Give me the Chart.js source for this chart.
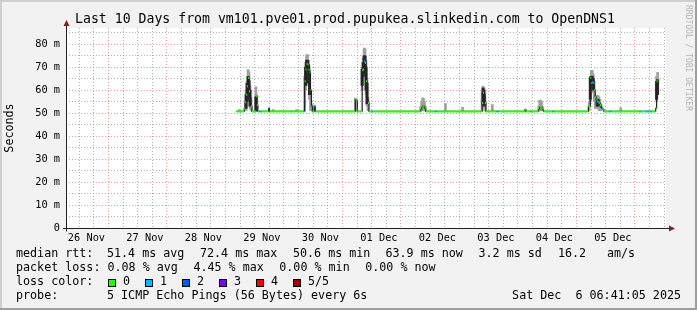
<!DOCTYPE html>
<html>
<head>
<meta charset="utf-8">
<script src="https://cdn.jsdelivr.net/npm/chart.js@4.4.1/dist/chart.umd.min.js"></script>
<style>
  html, body { margin: 0; padding: 0; background: #f2f2f2; }
  canvas { display: block; }
</style>
</head>
<body>
<canvas id="myChart" width="697" height="310"></canvas>
<script>
// time is hours since 26 Nov 00:00; graph covers 10 days up to 6 Dec 06:41
var xStart = 6.68, xEnd = 246.68;

// median rtt (ms); each value holds until the next time
var medTime = [
  73.4, 76.7, 77.1, 77.5, 77.9, 78.3, 78.7, 79.1, 79.5, 79.9,
  81.5, 81.9, 82.3, 83.1, 83.9, 86.7, 87.1, 95.9, 96.3,
  101.1, 101.5, 101.9, 102.3, 102.7, 103.1, 103.5, 103.9, 104.3, 104.7, 105.5, 105.9,
  122.3, 122.7, 123.1, 125.1, 125.5, 125.9, 126.3, 126.7, 127.1, 127.5, 127.9, 129.1, 129.5,
  149.1, 149.5, 149.9, 150.3, 150.7, 151.1, 155.1, 155.9,
  174.3, 174.7, 175.1, 175.5, 175.9, 180.3, 181.1, 191.9, 192.3, 194.3, 194.7,
  197.5, 197.9, 198.3, 198.7, 199.1, 199.5, 203.1, 203.9,
  217.9, 218.7, 219.1, 219.5, 219.9, 220.3, 220.7, 221.1, 221.5, 221.9, 222.3, 222.7, 223.1, 223.5, 223.9, 224.3,
  226.3, 227.5, 239.0, 239.4, 241.5, 242.7, 243.5, 243.9,
  245.5, 245.9, 246.3, 246.7
];
var medRtt = [
  50.7, 52.0, 54.7, 58.0, 61.7, 65.3, 59.5, 55.9, 53.0, 50.7,
  57.3, 53.5, 50.7, 50.7, 50.7, 52.1, 50.7, 50.7, 50.7,
  50.7, 63.8, 69.0, 71.4, 71.1, 69.0, 67.7, 60.0, 53.0, 50.7, 52.8, 50.7,
  55.9, 55.6, 50.7, 68.6, 68.9, 72.4, 71.8, 63.8, 55.9, 54.4, 50.7, 50.7, 50.7,
  51.5, 52.5, 53.0, 53.0, 52.0, 50.7, 50.7, 50.7,
  54.4, 58.8, 58.0, 54.4, 50.7, 50.7, 50.7, 51.5, 50.7, 50.7, 50.7,
  51.5, 52.6, 52.6, 52.2, 51.5, 50.7, 50.7, 50.7,
  53.0, 65.3, 63.1, 63.4, 63.1, 60.0, 57.0, 55.9, 55.0, 54.7, 54.4, 53.5, 52.5, 52.0, 51.5, 50.7,
  50.7, 50.7, 50.7, 50.7, 50.7, 50.7, 50.7, 50.7,
  52.0, 63.8, 64.6, 63.9
];
// lost pings out of 5 for each median step
var medLoss = [
  0, 0, 0, 0, 0, 0, 0, 0, 0, 0,
  0, 0, 0, 1, 0, 1, 0, 1, 0,
  1, 0, 0, 0, 0, 0, 1, 0, 1, 0, 1, 0,
  0, 0, 0, 0, 0, 1, 0, 0, 0, 0, 0, 1, 0,
  0, 0, 0, 0, 0, 0, 1, 0,
  0, 0, 0, 0, 0, 1, 0, 0, 0, 1, 0,
  0, 0, 0, 0, 0, 0, 1, 0,
  0, 0, 1, 1, 1, 0, 0, 0, 0, 1, 1, 0, 0, 1, 1, 0,
  1, 0, 1, 0, 1, 0, 1, 0,
  0, 0, 0, 0
];

// smoke: spread of the single pings (light) and the inner band (dark)
var smokeTime = [74.7, 77.5, 77.9, 78.3, 78.7, 79.1, 79.5, 81.5, 81.9, 88.7, 98.2,
  101.5, 101.9, 102.3, 102.7, 103.1, 103.5, 103.9, 104.3, 105.5,
  122.3, 125.1, 125.5, 125.9, 126.3, 126.7, 127.1, 127.5,
  149.1, 149.5, 149.9, 150.3, 150.7, 151.1, 159.3, 166.3,
  174.3, 174.7, 175.1, 175.5, 178.5,
  197.5, 197.9, 198.3, 198.7, 199.1,
  218.3, 218.7, 219.1, 219.5, 219.9, 220.3, 220.7, 221.1, 221.5, 221.9, 222.3, 222.7, 223.1,
  231.2, 245.9, 246.3];
var smokeLo = [50.7, 51, 55, 58, 56, 52, 51, 51, 51, 50.7, 50.7,
  51, 60, 65, 66, 62, 56, 51, 51, 51,
  51, 60, 65, 67, 66, 58, 53, 51,
  51, 51, 51, 51, 51, 51, 50.7, 50.7,
  51, 53, 52, 51, 50.7,
  51, 51, 51, 51, 51,
  51, 55, 60, 60, 59, 55, 52, 52, 52, 52, 51, 51, 51,
  50.7, 55, 58];
var smokeHi = [51.5, 60, 64, 68.9, 68, 62, 57, 61.4, 58, 51.5, 51.5,
  66, 72, 75.4, 75.4, 73, 70, 60, 54, 53.5,
  56.5, 70, 74, 78.3, 78, 73, 65, 57,
  53, 55, 56.6, 56.3, 55, 53, 54.1, 52.5,
  59, 61.7, 61, 57, 53.7,
  53, 55.6, 55.6, 55, 53,
  55, 66, 68.6, 68.6, 67, 64, 58, 57, 57.6, 57.6, 57, 56, 54,
  52.3, 66, 67.7];
var coreTime = [77.5, 77.9, 78.3, 78.7, 79.1, 81.5,
  101.9, 102.3, 102.7, 103.1, 103.5,
  125.1, 125.5, 125.9, 126.3, 126.7, 127.1,
  174.7, 175.1,
  218.7, 219.1, 219.5, 219.9, 221.5, 221.9,
  245.9, 246.3];
var coreLo = [52, 55, 58, 56, 53, 51, 62, 66, 67, 63, 58, 62, 66, 68, 67, 60, 54,
  54, 53, 56, 61, 61, 60, 53, 53, 56, 58];
var coreHi = [58, 63, 66, 64, 60, 57, 70, 73, 73, 71, 68, 69, 72, 75, 74.7, 70, 63,
  60.9, 60, 65.3, 66, 66, 65, 56, 56, 63.8, 64.6];

var dayLabels = ['26 Nov', '27 Nov', '28 Nov', '29 Nov', '30 Nov', '01 Dec', '02 Dec', '03 Dec', '04 Dec', '05 Dec'];
var lossNames = ['0', '1', '2', '3', '4', '5/5'];
var lossColors = ['#26ff00', '#00b8ff', '#0059ff', '#7e00ff', '#ff0000', '#a10000'];
var rttStats = ['51.4 ms avg', '72.4 ms max', '50.6 ms min', '63.9 ms now', '3.2 ms sd', '16.2', 'am/s'];
var lossStats = ['0.08 % avg', '4.45 % max', '0.00 % min', '0.00 % now'];
var titleText = 'Last 10 Days from vm101.pve01.prod.pupukea.slinkedin.com to OpenDNS1';
var probeText = '5 ICMP Echo Pings (56 Bytes) every 6s';
var stampText = 'Sat Dec  6 06:41:05 2025';

var gridCol = 'rgba(143,143,143,0.7)';
var mgridCol = 'rgba(222,79,79,0.55)';
var mono = '"DejaVu Sans Mono", monospace';

Chart.defaults.font.family = mono;

// dark median line through every step
var medLine = medTime.map(function (t, i) { return {x: t, y: medRtt[i]}; });
// coloured median marks, one flat run per step
var marks = [], markLoss = [];
for (var i = 0; i < medTime.length - 1; i++) {
  marks.push({x: medTime[i], y: medRtt[i]}, {x: medTime[i + 1], y: medRtt[i]}, {x: medTime[i + 1], y: null});
  markLoss.push(medLoss[i]);
}

var rrdDecor = {
  id: 'rrdDecor',
  beforeDraw: function (chart) {
    var c = chart.ctx, a = chart.chartArea;
    c.save();
    c.fillStyle = '#f2f2f2';
    c.fillRect(0, 0, chart.width, chart.height);
    c.fillStyle = '#ffffff';
    c.fillRect(a.left, a.top, a.right - a.left, a.bottom - a.top);
    c.restore();
  },
  afterDraw: function (chart) {
    var c = chart.ctx, a = chart.chartArea;
    var ax = a.left + 0.5, ay = a.bottom + 0.5;
    c.save();
    // axes with arrows
    c.strokeStyle = '#1f1f1f';
    c.lineWidth = 1;
    c.beginPath();
    c.moveTo(a.left - 3, ay); c.lineTo(a.right + 4, ay);
    c.moveTo(ax, ay + 3); c.lineTo(ax, a.top - 3);
    c.stroke();
    c.fillStyle = '#801f1f';
    c.beginPath();
    c.moveTo(a.right + 3, ay - 3); c.lineTo(a.right + 9, ay); c.lineTo(a.right + 3, ay + 3);
    c.closePath(); c.fill();
    c.beginPath();
    c.moveTo(ax - 3, a.top - 2); c.lineTo(ax, a.top - 8); c.lineTo(ax + 3, a.top - 2);
    c.closePath(); c.fill();

    c.fillStyle = '#000';
    c.textBaseline = 'middle';
    c.textAlign = 'left';
    c.font = '13.2px ' + mono;
    c.fillText(titleText, 75, 20);

    c.save();
    c.translate(10, 128);
    c.rotate(-Math.PI / 2);
    c.textAlign = 'center';
    c.font = '11.7px ' + mono;
    c.fillText('Seconds', 0, 0);
    c.restore();

    c.font = '11.7px ' + mono;
    c.fillText('median rtt:', 16, 254);
    var rttX = [107, 200, 293, 385.5, 478.5, 558, 607];
    rttStats.forEach(function (s, k) { c.fillText(s, rttX[k], 254); });
    c.fillText('packet loss:', 16, 268);
    var lossX = [107.5, 193.4, 279.3, 365.2];
    lossStats.forEach(function (s, k) { c.fillText(s, lossX[k], 268); });
    c.fillText('loss color:', 16, 282);
    lossNames.forEach(function (s, k) {
      var sx = 108 + k * 37;
      c.fillStyle = lossColors[k];
      c.fillRect(sx, 279, 8, 8);
      c.strokeStyle = '#000';
      c.strokeRect(sx + 0.5, 279.5, 7, 7);
      c.fillStyle = '#000';
      c.fillText(s, sx + 15, 282);
    });
    c.fillText('probe:', 16, 296);
    c.fillText(probeText, 107, 296);
    c.textAlign = 'right';
    c.fillText(stampText, 681, 296);

    // watermark
    c.save();
    c.translate(688, 5);
    c.rotate(Math.PI / 2);
    c.textAlign = 'left';
    c.fillStyle = '#b4b4b4';
    c.font = '8px ' + mono;
    c.fillText('RRDTOOL / TOBI OETIKER', 0, 0);
    c.restore();

    // 3d frame
    c.fillStyle = '#cfcfcf';
    c.fillRect(0, 0, chart.width, 2);
    c.fillRect(0, 0, 2, chart.height);
    c.fillStyle = '#9e9e9e';
    c.fillRect(0, chart.height - 2, chart.width, 2);
    c.fillRect(chart.width - 2, 0, 2, chart.height);
    c.restore();
  }
};

var ctx = document.getElementById('myChart').getContext('2d');
var myChart = new Chart(ctx, {
  type: 'line',
  data: {
    datasets: [{
      type: 'bar',
      data: smokeTime.map(function (t, k) { return {x: t, y: [smokeLo[k], smokeHi[k]]}; }),
      backgroundColor: '#a0a0a0',
      barThickness: 2,
      grouped: false,
      order: 4
    }, {
      type: 'bar',
      data: coreTime.map(function (t, k) { return {x: t, y: [coreLo[k], coreHi[k]]}; }),
      backgroundColor: '#2a2a2a',
      barThickness: 2.4,
      grouped: false,
      order: 3
    }, {
      data: medLine,
      stepped: true,
      borderColor: '#202020',
      borderWidth: 1.2,
      pointRadius: 0,
      order: 2
    }, {
      data: marks,
      spanGaps: false,
      borderWidth: 2,
      borderCapStyle: 'butt',
      pointRadius: 0,
      segment: {
        borderColor: function (s) { return lossColors[markLoss[Math.floor(s.p0DataIndex / 3)]]; }
      },
      order: 1
    }]
  },
  options: {
    responsive: false,
    animation: false,
    devicePixelRatio: 1,
    layout: { padding: { left: 0, top: 28, right: 31, bottom: 0 } },
    plugins: { legend: { display: false }, tooltip: { enabled: false } },
    scales: {
      x: {
        type: 'linear',
        min: xStart,
        max: xEnd,
        afterBuildTicks: function (axis) {
          var t = [];
          for (var h = 12; h <= xEnd; h += 6) t.push({value: h});
          axis.ticks = t;
        },
        afterFit: function (axis) { axis.height = 82; },
        ticks: {
          autoSkip: false,
          maxRotation: 0,
          padding: 4,
          color: '#000',
          font: { size: 10.3 },
          callback: function (v) { return (v - 12) % 24 === 0 ? dayLabels[(v - 12) / 24] : ''; }
        },
        grid: {
          drawTicks: false,
          color: function (g) { return g.tick && g.tick.value % 24 === 0 ? mgridCol : gridCol; }
        },
        border: { display: false, dash: [1, 2] }
      },
      y: {
        min: 0,
        max: 87,
        afterBuildTicks: function (axis) {
          var t = [];
          for (var v = 0; v <= 85; v += 5) t.push({value: v});
          axis.ticks = t;
        },
        afterFit: function (axis) { axis.width = 66; },
        ticks: {
          autoSkip: false,
          padding: 6,
          color: '#000',
          font: { size: 10.3 },
          callback: function (v) { return v === 0 ? '0' : (v % 10 === 0 ? v + ' m' : ''); }
        },
        grid: {
          drawTicks: false,
          color: function (g) { return g.tick && g.tick.value % 10 === 0 ? mgridCol : gridCol; }
        },
        border: { display: false, dash: [1, 2] }
      }
    }
  },
  plugins: [rrdDecor]
});
</script>
</body>
</html>
